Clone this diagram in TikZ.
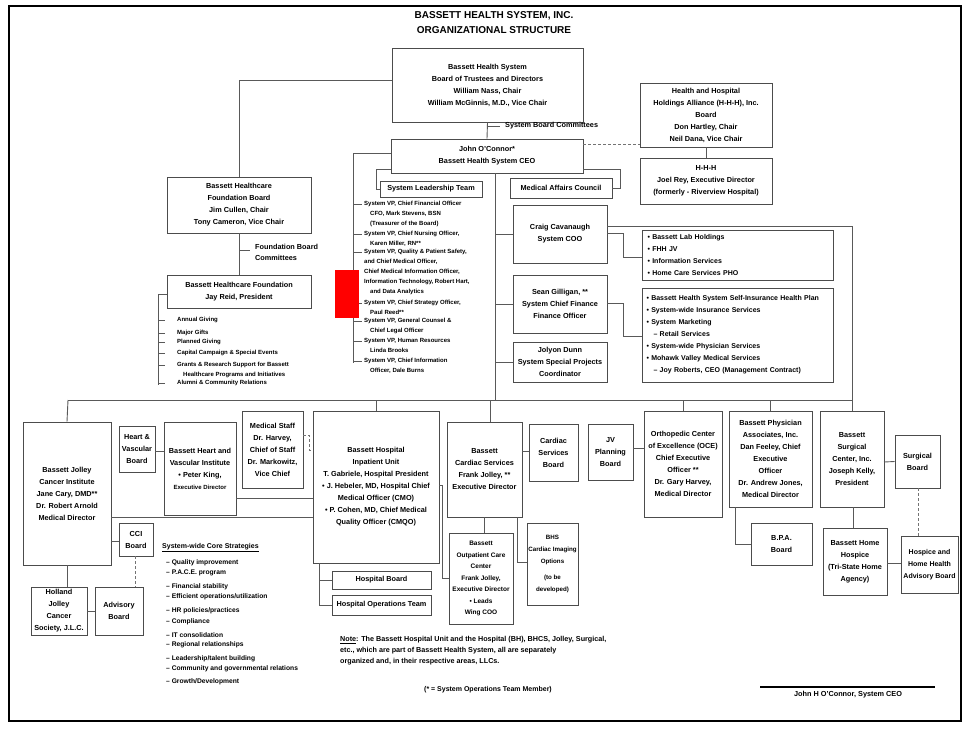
\documentclass[tikz,border=0pt]{standalone}
\usepackage{fontspec}
\setmainfont{Liberation Sans}
\usetikzlibrary{calc}
\newcommand\obox[7][]{\node[box,#1,minimum width={(#5-#3)*1pt},minimum height={(#6-#4)*1pt}] (#2) at ({(#3+#5)/2},{(#4+#6)/2}) {#7};}
\tikzset{
 ln/.style={draw=black!65, line width=0.9pt},
 dsh/.style={draw=black!55, line width=0.9pt, dash pattern=on 3pt off 2pt},
 box/.style={draw=black!70, line width=0.9pt, align=center, inner sep=0.5pt, font=\bfseries\fontsize{7.3}{12}\selectfont},
 lbox/.style={align=left, text width=#1, font=\bfseries\fontsize{7}{12}\selectfont},
 lst/.style={anchor=north west, align=left, inner sep=0pt, font=\bfseries\fontsize{6}{10}\selectfont},
 lbl/.style={anchor=west, align=left, inner sep=0pt, font=\bfseries\fontsize{7.3}{11}\selectfont},
}
\begin{document}
\begin{tikzpicture}[x=1pt,y=-1pt]
\useasboundingbox (0,0) rectangle (969,729);
\draw[line width=2.5pt] (9,6) rectangle (961,721);
% title
\node[font=\bfseries\fontsize{10}{15}\selectfont, align=center, inner sep=0pt] (title) at (494,23) {BASSETT HEALTH SYSTEM, INC.\\ORGANIZATIONAL STRUCTURE};
% top boxes
\obox{board}{392}{48}{583}{122}{Bassett Health System\\Board of Trustees and Directors\\William Nass, Chair\\William McGinnis, M.D., Vice Chair}
\obox{ceo}{391}{139}{583}{173}{John O'Connor*\\Bassett Health System CEO}
\obox{hold}{640}{83}{772}{147}{Health and Hospital\\Holdings Alliance (H-H-H), Inc.\\Board\\Don Hartley, Chair\\Neil Dana, Vice Chair}
\obox{hhh}{640}{158}{772}{204}{H-H-H\\Joel Rey, Executive Director\\(formerly - Riverview Hospital)}
\obox{slt}{380}{181}{482}{197}{System Leadership Team}
\obox{council}{510}{178}{612}{198}{Medical Affairs Council}
\obox{fb}{167}{177}{311}{233}{Bassett Healthcare\\Foundation Board\\Jim Cullen, Chair\\Tony Cameron, Vice Chair}
\obox{fd}{167}{275}{311}{308}{Bassett Healthcare Foundation\\Jay Reid, President}
\obox{coo}{513}{205}{607}{263}{Craig Cavanaugh\\System COO}
\obox[lbox=180pt]{cool}{642}{230}{833}{280}{• Bassett Lab Holdings\\• FHH JV\\• Information Services\\• Home Care Services PHO}
\obox{vp}{513}{275}{607}{333}{Sean Gilligan, **\\System Chief Finance\\Finance Officer}
\obox[lbox=182pt]{vpl}{642}{288}{833}{382}{• Bassett Health System Self-Insurance Health Plan\\• System-wide Insurance Services\\• System Marketing\\\quad – Retail Services\\• System-wide Physician Services\\• Mohawk Valley Medical Services\\\quad – Joy Roberts, CEO (Management Contract)}
\obox{spec}{513}{342}{607}{382}{Jolyon Dunn\\System Special Projects\\Coordinator}
% bottom boxes
\obox{canc}{23}{422}{111}{565}{Bassett Jolley\\Cancer Institute\\Jane Cary, DMD**\\Dr. Robert Arnold\\Medical Director}
\obox{hvb}{119}{426}{155}{472}{Heart \&\\Vascular\\Board}
\obox{hvi}{164}{422}{236}{515}{Bassett Heart and\\Vascular Institute\\• Peter King,\\{\fontsize{6}{10}\selectfont Executive Director}}
\obox{ms}{242}{411}{303}{488}{Medical Staff\\Dr. Harvey,\\Chief of Staff\\Dr. Markowitz,\\Vice Chief}
\obox{hosp}{313}{411}{439}{563}{Bassett Hospital\\Inpatient Unit\\T. Gabriele, Hospital President\\• J. Hebeler, MD, Hospital Chief\\Medical Officer (CMO)\\• P. Cohen, MD, Chief Medical\\Quality Officer (CMQO)}
\obox{hb}{332}{571}{431}{589}{Hospital Board}
\obox{hot}{332}{595}{431}{615}{Hospital Operations Team}
\obox{card}{447}{422}{522}{517}{Bassett\\Cardiac Services\\Frank Jolley, **\\Executive Director}
\obox{cb}{529}{424}{578}{481}{Cardiac\\Services\\Board}
\obox[font=\bfseries\fontsize{6.5}{11.5}\selectfont]{amb}{449}{533}{513}{624}{Bassett\\Outpatient Care\\Center\\Frank Jolley,\\Executive Director\\• Leads\\Wing COO}
\obox[font=\bfseries\fontsize{6.2}{12}\selectfont]{bhs}{527}{523}{578}{605}{BHS\\Cardiac Imaging\\Options\\[4pt](to be\\developed)}
\obox{jv}{588}{424}{633}{480}{JV\\Planning\\Board}
\obox{oce}{644}{411}{722}{517}{Orthopedic Center\\of Excellence (OCE)\\Chief Executive\\Officer **\\Dr. Gary Harvey,\\Medical Director}
\obox{bpa}{729}{411}{812}{507}{Bassett Physician\\Associates, Inc.\\Dan Feeley, Chief\\Executive\\Officer\\Dr. Andrew Jones,\\Medical Director}
\obox{bpab}{751}{523}{812}{565}{B.P.A.\\Board}
\obox{surg}{820}{411}{884}{507}{Bassett\\Surgical\\Center, Inc.\\Joseph Kelly,\\President}
\obox{sb}{895}{435}{940}{488}{Surgical\\Board}
\obox{hosc}{823}{528}{887}{595}{Bassett Home\\Hospice\\(Tri-State Home\\Agency)}
\obox[font=\bfseries\fontsize{7}{12}\selectfont]{hh}{901}{536}{958}{593}{Hospice and\\Home Health\\Advisory Board}
\obox{cci}{119}{523}{153}{556}{CCI\\Board}
\obox{jcc}{31}{587}{87}{635}{Holland\\Jolley\\Cancer\\Society, J.L.C.}
\obox{adv}{95}{587}{143}{635}{Advisory\\Board}
% connectors top
\draw[ln] (392,80) -| (fb.north);
\draw[ln] (board.south) -- (ceo.north);
\draw[ln] (487,126) -- (500,126);
\node[lbl] (sbc) at (505,126) {System Board Committees};
\draw[dsh] (583,144) -- (640,144);
\draw[ln] (706,147) -- (706,158);
\draw[ln] (583,169) -- (620,169) -- (620,188) -- (council.east);
\draw[ln] (391,169) -- (376,169) -- (376,189) -- (slt.west);
\draw[ln] (391,153) -- (353,153) -- (353,363);
\foreach \yy in {204,234,252,303,321,341,361} \draw[ln] (353,\yy) -- (362,\yy);
\draw[ln] (495,173) -- (495,400);
\draw[ln] (495,234) -- (coo.west);
\draw[ln] (495,304) -- (vp.west);
\draw[ln] (495,362) -- (spec.west);
\draw[ln] (607,226) -- (852,226) -- (surg.north);
\draw[ln] (607,233) -- (623,233) -- (623,257) -- (642,257);
\draw[ln] (607,303) -- (623,303) -- (623,336) -- (642,336);
\draw[ln] (fb.south) -- (fd.north);
\draw[ln] (239,250) -- (250,250);
\node[lbl] (fbc) at (255,252) {Foundation Board\\Committees};
\draw[ln] (167,294) -- (158,294) -- (158,385);
\foreach \yy in {320,333,342,353,365,383} \draw[ln] (158,\yy) -- (165,\yy);
% leadership list
\node[lst] (l1) at (364,201) {System VP, Chief Financial Officer\\\quad CFO, Mark Stevens, BSN\\\quad (Treasurer of the Board)};
\node[lst] (l2) at (364,231) {System VP, Chief Nursing Officer,\\\quad Karen Miller, RN**};
\node[lst] (l3) at (364,249) {System VP, Quality \& Patient Safety,\\and Chief Medical Officer,\\Chief Medical Information Officer,\\Information Technology, Robert Hart,\\\quad and Data Analytics};
\node[lst] (l4) at (364,300) {System VP, Chief Strategy Officer,\\\quad Paul Reed**};
\node[lst] (l5) at (364,318) {System VP, General Counsel \&\\\quad Chief Legal Officer};
\node[lst] (l6) at (364,338) {System VP, Human Resources\\\quad Linda Brooks};
\node[lst] (l7) at (364,358) {System VP, Chief Information\\\quad Officer, Dale Burns};
% foundation list
\node[lst] (f1) at (177,317) {Annual Giving};
\node[lst] (f2) at (177,330) {Major Gifts};
\node[lst] (f3) at (177,339) {Planned Giving};
\node[lst] (f4) at (177,350) {Capital Campaign \& Special Events};
\node[lst] (f5) at (177,362) {Grants \& Research Support for Bassett\\\quad Healthcare Programs and Initiatives};
\node[lst] (f6) at (177,380) {Alumni \& Community Relations};
\fill[red] (335,270) rectangle (359,318);
% bus
\draw[ln] (68,400) -- (852,400);
\draw[ln] (68,400) -- (canc.north);
\draw[ln] (376,400) -- (hosp.north);
\draw[ln] (490,400) -- (490,422);
\draw[ln] (683,400) -- (oce.north);
\draw[ln] (770.5,400) -- (bpa.north);
% bottom connectors
\draw[ln] (155,451) -- (164,451);
\draw[dsh] (303,435) -- (309,435) -- (309,450) -- (313,450);
\draw[ln] (236,498) -- (313,498);
\draw[ln] (111,517) -- (313,517);
\draw[ln] (111,541) -- (119,541);
\draw[ln] (canc.south) -- (jcc.north -| canc.south);
\draw[dsh] (135,556) -- (135,587);
\draw[ln] (87,611) -- (95,611);
\draw[ln] (319,563) -- (319,605);
\draw[ln] (319,580) -- (hb.west);
\draw[ln] (319,605) -- (hot.west);
\draw[ln] (439,485) -- (442,485) -- (442,578) -- (449,578);
\draw[ln] (522,451) -- (529,451);
\draw[ln] (484,517) -- (484,533);
\draw[ln] (517,517) -- (517,562) -- (527,562);
\draw[ln] (633,448) -- (644,448);
\draw[ln] (735,507) -- (735,544) -- (bpab.west);
\draw[ln] (884,462) -- (sb.west);
\draw[ln] (853,507) -- (853,528);
\draw[ln] (887,563) -- (901,563);
\draw[dsh] (918,488) -- (918,536);
% goals list
\node[lst, font=\bfseries\fontsize{7}{10}\selectfont] (gh) at (162,543) {\underline{System-wide Core Strategies}};
\foreach \yy/\tt in {563/{Quality improvement}, 573/{P.A.C.E. program}, 587/{Financial stability}, 597/{Efficient operations/utilization}, 611/{HR policies/practices}, 622/{Compliance}, 636/{IT consolidation}, 645/{Regional relationships}, 659/{Leadership/talent building}, 669/{Community and governmental relations}, 682/{Growth/Development}}
  \node[lst, font=\bfseries\fontsize{6.7}{10}\selectfont] at (166,\yy-3.5) {– \tt};
% notes
\node[lst, font=\bfseries\fontsize{7.2}{11}\selectfont] (note) at (340,636) {\underline{Note}: The Bassett Hospital Unit and the Hospital (BH), BHCS, Jolley, Surgical,\\etc., which are part of Bassett Health System, all are separately\\organized and, in their respective areas, LLCs.};
\node[lst, font=\bfseries\fontsize{7}{10}\selectfont, anchor=center] (ast) at (488,690) {(* = System Operations Team Member)};
\draw[line width=1.6pt] (760,687) -- (935,687);
\node[lst, font=\bfseries\fontsize{7.3}{10}\selectfont, anchor=center] (sig) at (848,695) {John H O'Connor, System CEO};
\end{tikzpicture}
\end{document}
